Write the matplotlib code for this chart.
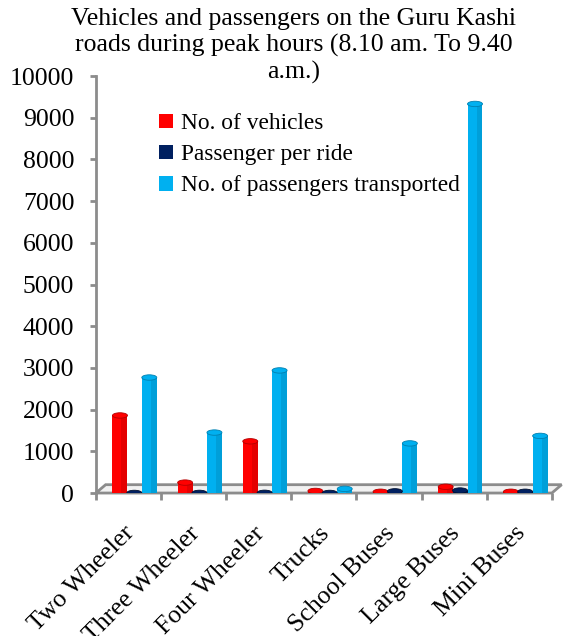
import numpy as np
import matplotlib.pyplot as plt
from matplotlib.patches import Ellipse, Polygon

plt.rcParams['font.family'] = ['Liberation Serif', 'DejaVu Serif']

categories = ['Two Wheeler', 'Three Wheeler', 'Four Wheeler', 'Trucks',
              'School Buses', 'Large Buses', 'Mini Buses']
vehicles = [1860, 250, 1240, 50, 30, 150, 30]
per_ride = [2, 3, 5, 2, 40, 60, 30]
transported = [2770, 1450, 2940, 100, 1190, 9330, 1370]

series = [('No. of vehicles', vehicles, '#ff0000', '#b30000'),
          ('Passenger per ride', per_ride, '#002060', '#001030'),
          ('No. of passengers transported', transported, '#00b0f0', '#0080b0')]
offsets = [0.37, 0.59, 0.82]
bw = 0.23
gray = '#8c8c8c'

fig = plt.figure(figsize=(5.64, 6.36), dpi=100)
ax = fig.add_axes([0.170, 0.2248, 0.8085, 0.6557])
x = np.arange(len(categories))

for (name, vals, col, dark), off in zip(series, offsets):
    ax.bar(x + off, vals, width=bw, color=col, label=name, zorder=3)
    # darker right side to suggest a cylinder
    ax.bar(x + off + bw * 0.3, vals, width=bw * 0.4, color=dark, alpha=0.35,
           zorder=3, linewidth=0)
    for xi, v in zip(x, vals):
        ax.add_patch(Ellipse((xi + off, v), bw, 130, facecolor=col,
                             edgecolor=dark, lw=0.6, zorder=4))

# floor of the 3d chart
floor = Polygon([(0, 0), (7, 0), (7.15, 200), (0.15, 200)], closed=True,
                facecolor='#f2f2f2', edgecolor=gray, lw=2, zorder=1, clip_on=False)
ax.add_patch(floor)

ax.set_xlim(0, 7)
ax.set_ylim(0, 10000)
ax.set_yticks(np.arange(0, 10001, 1000))
ax.tick_params(axis='y', labelsize=18.5, length=4.5, width=2, color=gray, pad=11)
ax.set_xticks(np.arange(0, 8))
ax.set_xticklabels([])
ax.tick_params(axis='x', length=5, width=2, color=gray)
ax.set_xticks(x + 0.42, minor=True)
ax.set_xticklabels(categories, minor=True, rotation=45, ha='right',
                   rotation_mode='anchor', fontsize=18.5)
ax.tick_params(axis='x', which='minor', length=0, pad=21)

for s in ['top', 'right']:
    ax.spines[s].set_visible(False)
ax.spines['left'].set_color(gray)
ax.spines['left'].set_linewidth(2)
ax.spines['bottom'].set_visible(False)

fig.text(0.521, 0.987, 'Vehicles and passengers on the Guru Kashi\nroads during peak hours (8.10 am. To 9.40\na.m.)',
         fontsize=18.5, ha='center', va='top', linespacing=1.2)

ax.legend(loc='upper left', bbox_to_anchor=(0.118, 0.933), frameon=False,
          fontsize=16.8, handlelength=0.6, handleheight=0.6, handletextpad=0.35,
          labelspacing=0.43, borderaxespad=0)

fig.savefig('out.png', dpi=100)
